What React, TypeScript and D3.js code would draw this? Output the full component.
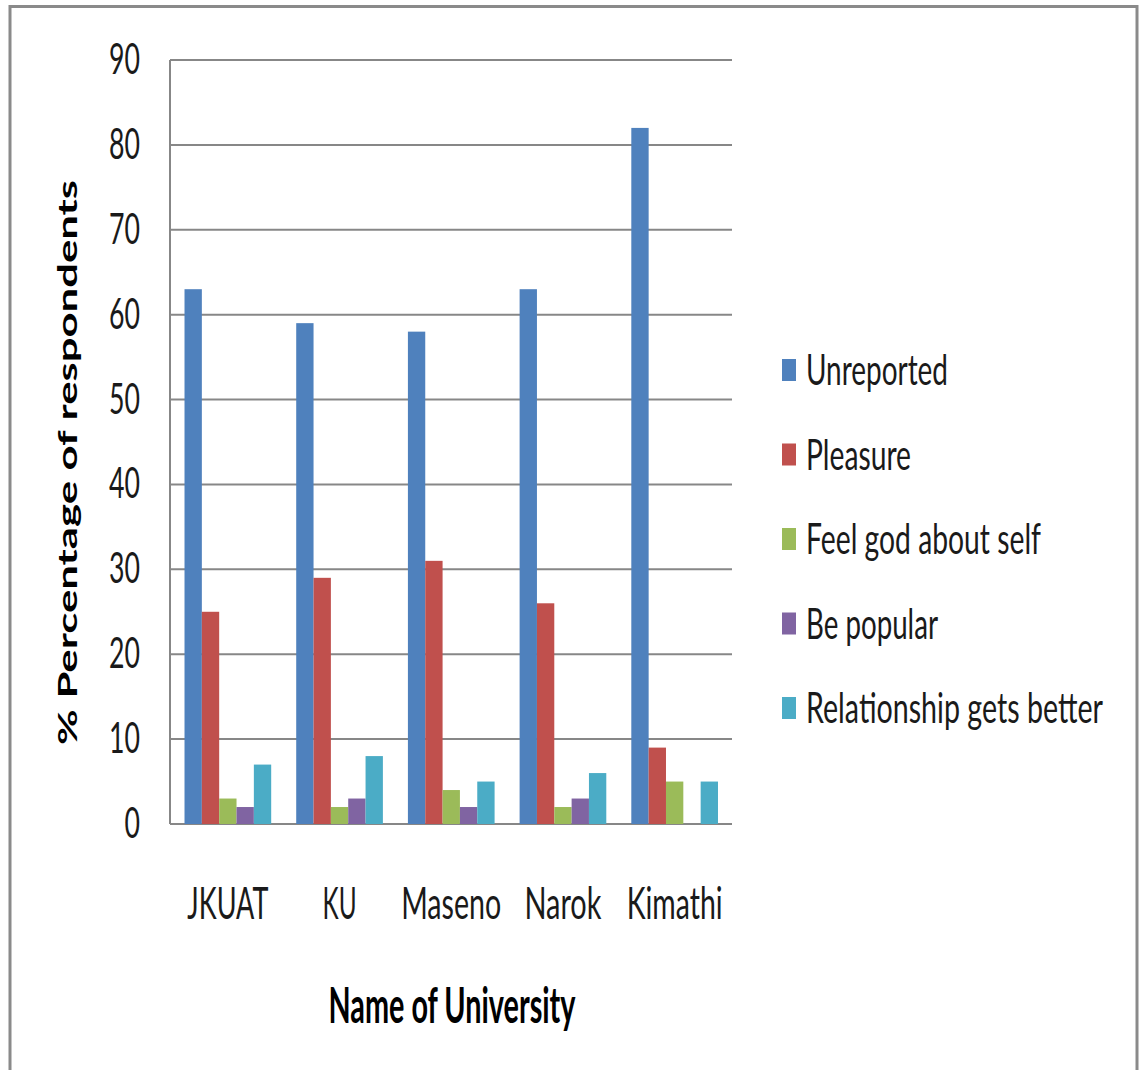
import React from "react";
import * as d3 from "d3";

const categories = ["JKUAT", "KU", "Maseno", "Narok", "Kimathi"];
const seriesNames = ["Unreported", "Pleasure", "Feel god about self", "Be popular", "Relationship gets better"];
const unreported = [63, 59, 58, 63, 82];
const pleasure = [25, 29, 31, 26, 9];
const feelGood = [3, 2, 4, 2, 5];
const bePopular = [2, 3, 2, 3, 0];
const relationship = [7, 8, 5, 6, 5];
const yTicks = [0, 10, 20, 30, 40, 50, 60, 70, 80, 90];
const yTitle = "% Percentage of respondents";
const xTitle = "Name of University";

const seriesValues = [unreported, pleasure, feelGood, bePopular, relationship];
const colors = ["#4F81BD", "#C0504D", "#9BBB59", "#8064A2", "#4BACC6"];

// layout (measured from reference)
const W = 1139, H = 1070;
const plotLeft = 170, plotRight = 732, plotTop = 60, plotBottom = 824;
const catWidths: Record<string, number> = { JKUAT: 81, KU: 34, Maseno: 100, Narok: 77, Kimathi: 96 };
const legendWidths = [142, 105, 235, 132, 297];
const FONT = "Lato, 'Open Sans', sans-serif";
const TXT = "#1a1a1a";
const SY = 1.6; // vertical stretch of the reference's text

function SText(props: {
  x: number; y: number; size: number; width: number; text: string; bold?: boolean; fill?: string;
}) {
  const { x, y, size, width, text, bold, fill } = props;
  return (
    <text
      transform={`translate(${x},${y}) scale(1,${SY})`}
      x={0}
      y={0}
      fontFamily={FONT}
      fontWeight={bold ? "bold" : "normal"}
      fontSize={size / SY}
      fill={fill || TXT}
      textLength={width}
      lengthAdjust="spacingAndGlyphs"
    >
      {text}
    </text>
  );
}

export default function App() {
  const y = d3.scaleLinear().domain([0, 90]).range([plotBottom, plotTop]);
  const x0 = d3.scaleBand<string>().domain(categories).range([172, 730.5]).paddingInner(0.224).paddingOuter(0.112);
  const x1 = d3.scaleBand<number>().domain(d3.range(seriesNames.length)).range([0, x0.bandwidth()]).padding(0);

  return (
    <svg width={W} height={H} style={{ position: "absolute", left: 0, top: 0, background: "#fff" }}>
      <rect x={0} y={0} width={W} height={H} fill="#fff" />
      {/* outer frame */}
      <rect x={10} y={6.5} width={1127} height={H + 20} fill="none" stroke="#8a8a8a" strokeWidth={3} />
      {/* gridlines */}
      {yTicks.map((t) => (
        <line key={"g" + t} x1={plotLeft} x2={plotRight} y1={y(t)} y2={y(t)} stroke="#878787" strokeWidth={2} />
      ))}
      {/* y axis line */}
      <line x1={plotLeft} x2={plotLeft} y1={plotTop} y2={plotBottom} stroke="#878787" strokeWidth={2} />
      {/* bars */}
      {categories.map((c, ci) => (
        <g key={c} transform={`translate(${x0(c)},0)`}>
          {seriesValues.map((vals, si) => (
            <rect
              key={si}
              x={x1(si)}
              y={y(vals[ci])}
              width={x1.bandwidth()}
              height={y(0) - y(vals[ci])}
              fill={colors[si]}
            />
          ))}
        </g>
      ))}
      {/* y tick labels */}
      {yTicks.map((t) => {
        const w = String(t).length * 15.5;
        return <SText key={"t" + t} x={140 - w} y={y(t) + 14} size={42} width={w} text={String(t)} />;
      })}
      {/* category labels */}
      {categories.map((c) => (
        <SText
          key={"c" + c}
          x={(x0(c) as number) + x0.bandwidth() / 2 - catWidths[c] / 2}
          y={919}
          size={45}
          width={catWidths[c]}
          text={c}
        />
      ))}
      {/* x title */}
      <SText x={452 - 247 / 2} y={1023} size={50} width={247} text={xTitle} bold fill="#000" />
      {/* y title */}
      <text
        transform="translate(77,745) rotate(-90)"
        x={0}
        y={0}
        fontFamily={FONT}
        fontWeight="bold"
        fontSize={27}
        fill="#000"
        textLength={565}
        lengthAdjust="spacingAndGlyphs"
      >
        {yTitle}
      </text>
      {/* legend */}
      {seriesNames.map((s, i) => {
        const base = 385 + i * 84.5;
        return (
          <g key={"l" + s}>
            <rect x={782} y={base - 26} width={14} height={22} fill={colors[i]} />
            <SText x={806} y={base} size={42} width={legendWidths[i]} text={s} />
          </g>
        );
      })}
    </svg>
  );
}
